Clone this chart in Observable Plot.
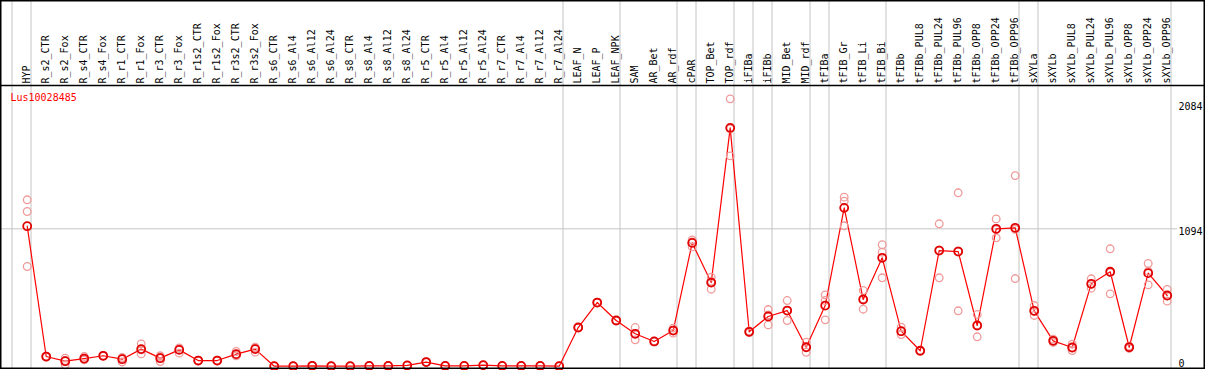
<!DOCTYPE html>
<html>
<head>
<meta charset="utf-8">
<script src="https://cdn.jsdelivr.net/npm/d3@7"></script>
<script src="https://cdn.jsdelivr.net/npm/@observablehq/plot@0.6"></script>
<style>
  html, body { margin: 0; padding: 0; background: white; }
  #chart svg { display: block; }
</style>
</head>
<body>
<div id="chart"></div>
<script>
const title = "Lus10028485";
const samples = ["HYP","R_s2_CTR","R_s2_Fox","R_s4_CTR","R_s4_Fox","R_r1_CTR","R_r1_Fox","R_r3_CTR","R_r3_Fox","R_r1s2_CTR","R_r1s2_Fox","R_r3s2_CTR","R_r3s2_Fox","R_s6_CTR","R_s6_Al4","R_s6_Al12","R_s6_Al24","R_s8_CTR","R_s8_Al4","R_s8_Al12","R_s8_Al24","R_r5_CTR","R_r5_Al4","R_r5_Al12","R_r5_Al24","R_r7_CTR","R_r7_Al4","R_r7_Al12","R_r7_Al24","LEAF_N","LEAF_P","LEAF_NPK","SAM","AR_Bet","AR_rdf","cPAR","TOP_Bet","TOP_rdf","iFIBa","iFIBb","MID_Bet","MID_rdf","tFIBa","tFIB_Gr","tFIB_Li","tFIB_Bi","tFIBb","tFIBb_PUL8","tFIBb_PUL24","tFIBb_PUL96","tFIBb_OPP8","tFIBb_OPP24","tFIBb_OPP96","sXYLa","sXYLb","sXYLb_PUL8","sXYLb_PUL24","sXYLb_PUL96","sXYLb_OPP8","sXYLb_OPP24","sXYLb_OPP96"];
const means = [1115,77,40,61,83,56,136,64,130,45,45,96,136,0,0,3,0,0,2,2,6,33,2,2,8,2,2,2,0,308,507,364,258,197,284,982,666,1898,274,396,443,151,483,1261,531,863,279,123,921,913,324,1094,1102,441,202,149,656,752,151,741,563];
const reps = [[1325,1232,794],[80,75,72],[64,45,11],[77,55,51],[86,82,80],[64,70,34],[178,130,98],[83,72,37],[146,140,104],[48,45,42],[48,45,42],[117,88,83],[144,152,112],[0,0,0],[0,0,0],[3,3,3],[0,0,0],[0,0,0],[2,2,2],[2,2,2],[6,6,6],[33,33,33],[2,2,2],[2,2,2],[8,8,8],[2,2,2],[2,2,2],[2,2,2],[0,0,0],[308,308,308],[507,507,507],[364,364,364],[308,258,210],[200,197,194],[303,286,263],[1006,990,950],[709,676,613],[2129,1890,1675],[280,274,268],[451,408,329],[523,442,364],[191,151,111],[568,523,369],[1346,1314,1118],[603,536,454],[967,908,704],[311,275,252],[126,123,120],[1134,925,704],[1381,917,441],[412,326,234],[1173,1087,1022],[1518,1090,698],[483,436,404],[215,202,189],[175,147,125],[696,651,621],[935,745,576],[160,151,142],[818,757,648],[611,560,518]];
const groupEnds = [-1,0,28,31,34,35,37,38,39,41,42,45,52,53,60];
const gridValues = [1094];
const yTicks = [2084, 1094];
const yTickLabels = ["2084.", "1094."];
const yZeroTick = [0];
const yZeroLabel = ["0"];

const repData = reps.flatMap((r, i) => r.map(v => ({i, v})));
const idx = (d, i) => i;

const chart = Plot.plot({
  width: 1209,
  height: 370,
  marginTop: 1,
  marginBottom: 2,
  marginLeft: 1,
  marginRight: 32,
  x: {domain: [0, samples.length - 1], range: [26.7, 1166.7], axis: null},
  y: {domain: [0, 2084], range: [365.7, 104], axis: null},
  style: {fontFamily: "'DejaVu Sans Mono', monospace", fontSize: "10px", background: "white", overflow: "hidden"},
  marks: [
    Plot.ruleX(groupEnds, {x: d => d + 0.2, stroke: "#c4c4c4", strokeWidth: 1}),
    Plot.ruleY(gridValues, {y: d => d, stroke: "#c4c4c4", strokeWidth: 1}),
    Plot.text(samples, {x: idx, frameAnchor: "top", lineAnchor: "middle", dy: 82, rotate: -90, textAnchor: "start", fill: "black", text: d => d}),
    Plot.text([title], {frameAnchor: "top-left", lineAnchor: "middle", dx: 9, dy: 96, textAnchor: "start", fill: "#ff0000", text: d => d}),
    Plot.text(yTicks, {y: d => d, frameAnchor: "right", lineAnchor: "middle", dx: 1, dy: 2.5, textAnchor: "start", fill: "black", text: (d, i) => yTickLabels[i]}),
    Plot.text(yZeroTick, {y: d => d, frameAnchor: "right", lineAnchor: "middle", dx: 1, dy: -2, textAnchor: "start", fill: "black", text: (d, i) => yZeroLabel[i]}),
    Plot.line(means, {x: idx, y: d => d, stroke: "#ff0000", strokeWidth: 1.2}),
    Plot.dot(repData, {x: "i", y: "v", r: 3.8, stroke: "#f09a9a", strokeWidth: 1.3, fill: "none"}),
    Plot.dot(means, {x: idx, y: d => d, r: 4, stroke: "#e00000", strokeWidth: 1.8, fill: "none"})
  ]
});

const svg = d3.select(chart);
svg.append("rect").attr("x", 1205).attr("y", 0).attr("width", 4).attr("height", 370).attr("fill", "white");
svg.append("line").attr("x1", 0).attr("x2", 1204).attr("y1", 85.5).attr("y2", 85.5).attr("stroke", "black").attr("stroke-width", 1.5);
svg.append("rect").attr("x", 0.75).attr("y", 0.75).attr("width", 1203.5).attr("height", 367.5).attr("fill", "none").attr("stroke", "black").attr("stroke-width", 1.5);
document.getElementById("chart").appendChild(chart);
</script>
</body>
</html>
